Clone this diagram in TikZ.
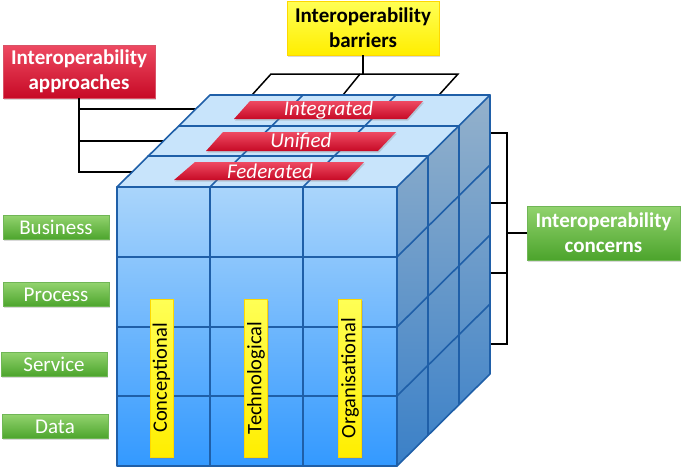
\documentclass[tikz,border=0pt]{standalone}
\usepackage{fontspec}
\setmainfont{Carlito}
\usetikzlibrary{shadows}
\definecolor{edgeblue}{HTML}{1F5FA8}
\definecolor{topblue}{HTML}{C8E4FB}
\definecolor{frontT}{HTML}{AAD5FB}
\definecolor{frontB}{HTML}{3399FF}
\definecolor{sideT}{HTML}{94B1CB}
\definecolor{sideB}{HTML}{3A80C8}
\definecolor{redT}{HTML}{EE4A62}
\definecolor{redB}{HTML}{C70A26}
\definecolor{yelT}{HTML}{FFFF55}
\definecolor{yelB}{HTML}{FFEE00}
\definecolor{grnT}{HTML}{92D36E}
\definecolor{grnB}{HTML}{4CA42C}
\begin{document}
\begin{tikzpicture}[x=1pt,y=-1pt,
  bracket/.style={draw=black,line width=1.5pt,line join=miter},
  cubeline/.style={draw=edgeblue,line width=1.6pt,line join=round,line cap=round},
  shad/.style={drop shadow={opacity=0.3,shadow xshift=1.2pt,shadow yshift=-1.5pt}},
  bigtxt/.style={font=\fontsize{21}{25}\selectfont\bfseries,align=center,inner sep=0pt},
  redbox/.style={bigtxt,shad,top color=redT,bottom color=redB,draw=redB!70!white,line width=0.6pt,text=white,minimum width=152pt,minimum height=53pt},
  yelbox/.style={bigtxt,shad,top color=yelT,bottom color=yelB,draw=yelB!80!orange,line width=0.6pt,text=black,minimum width=152pt,minimum height=54pt},
  grnbox/.style={bigtxt,shad,top color=grnT,bottom color=grnB,draw=grnB!80!white,line width=0.6pt,text=white,minimum width=153pt,minimum height=54pt},
  layerbox/.style={shad,top color=grnT,bottom color=grnB,draw=grnB!80!white,line width=0.5pt,text=white,font=\fontsize{21}{25}\selectfont,minimum width=106pt,minimum height=24pt,inner sep=0pt},
  vbox/.style={shad,top color=yelT,bottom color=yelB,draw=yelB!80!orange,line width=0.4pt,text=black,font=\fontsize{20.5}{24}\selectfont,minimum width=158pt,minimum height=23pt,inner sep=0pt,rotate=90},
  redpara/.style={shad,top color=redT,bottom color=redB},
  ptext/.style={text=white,font=\fontsize{21}{25}\selectfont\itshape,inner sep=0pt}
]
\useasboundingbox (0,0) rectangle (685,469);

% ---------- label boxes ----------
\node[redbox] (appr) at (79,71.5) {Interoperability\\approaches};
\node[yelbox] (barr) at (363,28) {Interoperability\\barriers};
\node[grnbox] (conc) at (603.5,233) {Interoperability\\concerns};

% ---------- bracket coordinates ----------
\coordinate (a1) at (196,109);
\coordinate (a2) at (163.5,141);
\coordinate (a3) at (132,172);
\coordinate (b0) at (363,74);
\coordinate (bl) at (271,74);
\coordinate (bm) at (360,74);
\coordinate (br) at (458,74);
\coordinate (b1) at (252,95);
\coordinate (b2) at (343,95);
\coordinate (b3) at (439,95);
\coordinate (c0) at (507,233);
\coordinate (c1) at (490,133);
\coordinate (c2) at (490,203);
\coordinate (c3) at (490,273);
\coordinate (c4) at (490,344);

% ---------- brackets ----------
\draw[bracket] (appr.south) |- (a3);
\draw[bracket] (appr.south |- a1) -- (a1);
\draw[bracket] (appr.south |- a2) -- (a2);
\draw[bracket] (barr.south) -- (b0);
\draw[bracket] (b1) -- (bl) -- (br) -- (b3);
\draw[bracket] (bm) -- (b2);
\draw[bracket] (c1) -| (c0 |- c4) -- (c4);
\draw[bracket] (c2) -- (c0 |- c2);
\draw[bracket] (c3) -- (c0 |- c3);
\draw[bracket] (c0) -- (conc.west);

% ---------- cube faces ----------
\shade[top color=frontT,bottom color=frontB] (117,187) rectangle (397,466);
\shade[top color=sideT,bottom color=sideB] (397,187) -- (490,95) -- (490,374) -- (397,466) -- cycle;
\fill[topblue] (117,187) -- (210,95) -- (490,95) -- (397,187) -- cycle;

% front grid
\draw[cubeline] (210,187) -- (210,466) (303,187) -- (303,466);
\draw[cubeline] (117,257) -- (397,257) (117,327) -- (397,327) (117,396) -- (397,396);
% top grid
\draw[cubeline] (210,187) -- (303,95) (303,187) -- (396,95);
\draw[cubeline] (148,156) -- (428,156) (179,126) -- (459,126);
% right grid
\draw[cubeline] (428,156) -- (428,435) (459,126) -- (459,404);
\draw[cubeline] (397,257) -- (490,165) (397,327) -- (490,235) (397,396) -- (490,304);
% outline
\draw[cubeline] (117,187) rectangle (397,466);
\draw[cubeline] (117,187) -- (210,95) -- (490,95) -- (397,187);
\draw[cubeline] (490,95) -- (490,374) -- (397,466);

% ---------- approach layers ----------
\path[redpara] (250,101) -- (423,101) -- (407,119) -- (234,119) -- cycle;
\node[ptext] (integ) at (328.5,110) {Integrated};
\path[redpara] (223,132) -- (396,132) -- (378,151) -- (206,151) -- cycle;
\node[ptext] (unif) at (301,141.5) {Unified};
\path[redpara] (195,162) -- (364,162) -- (347,180) -- (174,180) -- cycle;
\node[ptext] (fed) at (270,171) {Federated};

% ---------- barrier labels ----------
\node[vbox] (concp) at (161.5,378) {Conceptional};
\node[vbox] (tech) at (256,378) {Technological};
\node[vbox] (org) at (350,378) {Organisational};

% ---------- concern labels ----------
\node[layerbox] (bus) at (56,227.5) {Business};
\node[layerbox] (proc) at (56,294.5) {Process};
\node[layerbox] (serv) at (54,364) {Service};
\node[layerbox] (data) at (55,426.5) {Data};
\end{tikzpicture}
\end{document}
